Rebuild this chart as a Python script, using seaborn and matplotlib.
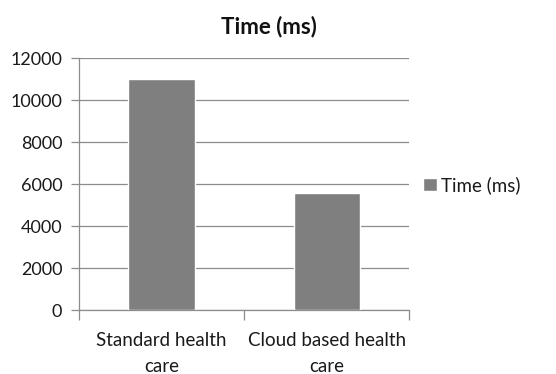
import pandas as pd
import seaborn as sns
from matplotlib import pyplot as plt

sns.set_theme(style="white")
plt.rcParams["font.family"] = ["Lato", "DejaVu Sans"]

categories = ["Standard health\ncare", "Cloud based health\ncare"]
times = [11000, 5600]
series = "Time (ms)"

d = pd.DataFrame({"system": categories, "time": times, "series": series})

fig = plt.figure(figsize=(5.56, 3.74), dpi=100)
ax = fig.add_axes([0.142, 0.171, 0.594, 0.6726])

sns.barplot(data=d, x="system", y="time", hue="series", palette=["#7f7f7f"],
            width=0.4, saturation=1, ax=ax, zorder=3)

ax.set_ylim(0, 12000)
ax.set_xlim(-0.5, 1.5)
ax.set_yticks(range(0, 12001, 2000))
ax.yaxis.grid(True, color="#8c8c8c", linewidth=0.9, zorder=0)
ax.set_axisbelow(True)
ax.set_xlabel("")
ax.set_ylabel("")

for s in ["top", "right"]:
    ax.spines[s].set_visible(False)
for s in ["left", "bottom"]:
    ax.spines[s].set_color("#8c8c8c")
    ax.spines[s].set_linewidth(0.9)

ax.tick_params(axis="y", left=True, length=6, width=0.9, color="#8c8c8c",
               labelsize=13, labelcolor="#1a1a1a", pad=6)
ax.tick_params(axis="x", which="major", length=0, labelsize=13.5,
               labelcolor="#1a1a1a", pad=16)
ax.set_xticks([-0.5, 0.5, 1.5], minor=True)
ax.tick_params(axis="x", which="minor", bottom=True, length=7, width=0.9,
               color="#8c8c8c")
for t in ax.get_xticklabels():
    t.set_linespacing(1.6)

ax.set_title("Time (ms)", fontsize=16, fontweight="bold", color="#111111",
             pad=18, x=0.575)

ax.legend(loc="center left", bbox_to_anchor=(1.02, 0.497), frameon=False,
          fontsize=13.5, handlelength=0.75, handleheight=0.75, handletextpad=0.2,
          borderaxespad=0, labelcolor="#1a1a1a")

plt.savefig("out.png", dpi=100)
plt.close()
